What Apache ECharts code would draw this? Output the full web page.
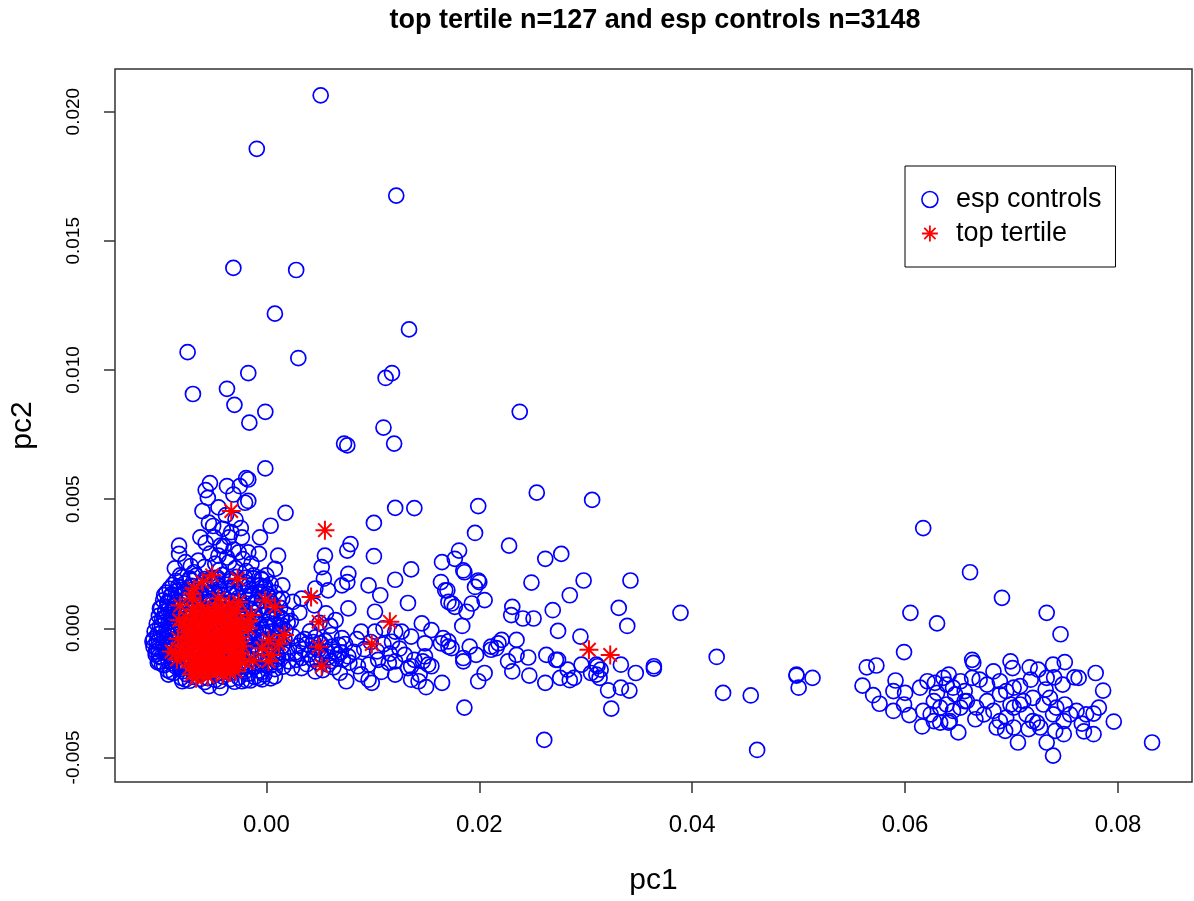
<!DOCTYPE html>
<html>
<head>
<meta charset="utf-8">
<title>top tertile vs esp controls</title>
<script src="https://cdn.jsdelivr.net/npm/echarts@6/dist/echarts.min.js"></script>
<style>
  html, body { margin: 0; padding: 0; background: #fff; }
  #chart { width: 1194px; height: 901px; }
</style>
</head>
<body>
<div id="chart"></div>
<script>
// axis ticks, as printed on the plot
const pc1Ticks = [0, 0.02, 0.04, 0.06, 0.08];
const pc1TickLabels = ["0.00", "0.02", "0.04", "0.06", "0.08"];
const pc2Ticks = [-0.005, 0, 0.005, 0.01, 0.015, 0.02];
const pc2TickLabels = ["-0.005", "0.000", "0.005", "0.010", "0.015", "0.020"];

// esp controls, [pc1, pc2]
// dense blob left of zero
const controlsCore = [
  [-0.0079, 0.00198], [-0.0066, 0.00204], [-0.0051, 0.00195], [-0.0041, 0.00207], [-0.0028, 0.00199], [-0.0012, 0.00193],
  [-0.0085, 0.00183], [-0.0072, 0.00188], [-0.0058, 0.00181], [-0.0046, 0.00189], [-0.0033, 0.00184], [-0.002, 0.00179], [-0.0004, 0.00187],
  [-0.0088, 0.00168], [-0.0077, 0.00173], [-0.0062, 0.00166], [-0.0053, 0.00172], [-0.0038, 0.00169], [-0.0025, 0.00174], [-0.0009, 0.00165], [0.0004, 0.00171],
  [-0.0091, 0.00153], [-0.0081, 0.00158], [-0.0069, 0.00151], [-0.0057, 0.00157], [-0.0044, 0.00154], [-0.003, 0.00159], [-0.0016, 0.00152], [-0.0002, 0.00156],
  [-0.0094, 0.00138], [-0.0085, 0.00143], [-0.0073, 0.00137], [-0.0061, 0.00142], [-0.0049, 0.00139], [-0.0035, 0.00144], [-0.0021, 0.00136], [-0.0006, 0.00141], [0.0008, 0.00138],
  [-0.009, 0.00123], [-0.0079, 0.00127], [-0.0066, 0.00121], [-0.0054, 0.00128], [-0.004, 0.00124], [-0.0026, 0.00119], [-0.0013, 0.00126], [0.0002, 0.00122],
  [-0.0097, 0.00108], [-0.0086, 0.00112], [-0.0074, 0.00106], [-0.0059, 0.00113], [-0.0046, 0.00109], [-0.0032, 0.00105], [-0.0018, 0.00111], [-0.0004, 0.00107], [0.0011, 0.00112],
  [-0.0093, 0.00097], [-0.0081, 0.00092], [-0.0068, 0.00098], [-0.0051, 0.00093], [-0.0037, 0.00096], [-0.0023, 0.00091], [-0.0009, 0.00097], [0.0005, 0.00094],
  [-0.0099, 0.00078], [-0.0088, 0.00082], [-0.0076, 0.00077], [-0.0063, 0.00083], [-0.0048, 0.00079], [-0.003, 0.00081], [-0.0015, 0.00076], [0.0, 0.00082], [0.0013, 0.00079],
  [-0.0095, 0.00067], [-0.0083, 0.00062], [-0.007, 0.00066], [-0.0056, 0.00063], [-0.0042, 0.00068], [-0.0027, 0.00064], [-0.0011, 0.00061], [0.0006, 0.00066],
  [-0.0101, 0.00048], [-0.009, 0.00053], [-0.0078, 0.00047], [-0.0064, 0.00052], [-0.005, 0.00049], [-0.0034, 0.00054], [-0.0019, 0.00046], [-0.0004, 0.00051], [0.001, 0.00048], [0.0019, 0.00053],
  [-0.0098, 0.00037], [-0.0086, 0.00032], [-0.0073, 0.00036], [-0.0058, 0.00033], [-0.0045, 0.00038], [-0.0029, 0.00034], [-0.0013, 0.00031], [0.0003, 0.00036], [0.0015, 0.00033],
  [-0.0103, 0.00018], [-0.0092, 0.00022], [-0.008, 0.00017], [-0.0067, 0.00023], [-0.0053, 0.00019], [-0.0038, 0.00021], [-0.0022, 0.00016], [-0.0007, 0.00022], [0.0008, 0.00018], [0.002, 0.00021],
  [-0.01, 0.00007], [-0.0089, 0.00002], [-0.0076, 0.00006], [-0.0062, 0.00003], [-0.0047, 0.00008], [-0.0031, 0.00004], [-0.0016, 0.00001], [0.0, 0.00006], [0.0013, 0.00003],
  [-0.0105, -0.00012], [-0.0094, -0.00008], [-0.0083, -0.00013], [-0.007, -0.00007], [-0.0056, -0.00011], [-0.0041, -0.00009], [-0.0025, -0.00014], [-0.001, -0.00008], [0.0006, -0.00012], [0.0018, -0.00009],
  [-0.0102, -0.00023], [-0.0091, -0.00028], [-0.0078, -0.00024], [-0.0064, -0.00027], [-0.0049, -0.00022], [-0.0034, -0.00026], [-0.0018, -0.00029], [-0.0003, -0.00024], [0.0011, -0.00027],
  [-0.0106, -0.00042], [-0.0096, -0.00038], [-0.0085, -0.00043], [-0.0072, -0.00037], [-0.0058, -0.00041], [-0.0043, -0.00039], [-0.0028, -0.00044], [-0.0012, -0.00038], [0.0004, -0.00042], [0.0017, -0.00039],
  [-0.0103, -0.00053], [-0.0092, -0.00058], [-0.008, -0.00054], [-0.0066, -0.00057], [-0.0051, -0.00052], [-0.0036, -0.00056], [-0.002, -0.00059], [-0.0005, -0.00054], [0.001, -0.00057],
  [-0.0106, -0.00072], [-0.0097, -0.00068], [-0.0087, -0.00073], [-0.0074, -0.00067], [-0.006, -0.00071], [-0.0045, -0.00069], [-0.0029, -0.00074], [-0.0013, -0.00068], [0.0003, -0.00072], [0.0015, -0.00069],
  [-0.0101, -0.00083], [-0.009, -0.00088], [-0.0077, -0.00084], [-0.0063, -0.00087], [-0.0048, -0.00082], [-0.0032, -0.00086], [-0.0017, -0.00089], [-0.0001, -0.00084], [0.0009, -0.00087],
  [-0.0104, -0.00102], [-0.0094, -0.00098], [-0.0083, -0.00103], [-0.0069, -0.00097], [-0.0055, -0.00101], [-0.004, -0.00099], [-0.0024, -0.00104], [-0.0008, -0.00098], [0.0006, -0.00102], [0.0016, -0.00099],
  [-0.0099, -0.00113], [-0.0088, -0.00118], [-0.0075, -0.00114], [-0.0061, -0.00117], [-0.0046, -0.00112], [-0.003, -0.00116], [-0.0014, -0.00119], [0.0002, -0.00114],
  [-0.0102, -0.00132], [-0.0092, -0.00128], [-0.008, -0.00133], [-0.0066, -0.00127], [-0.0052, -0.00131], [-0.0037, -0.00129], [-0.0021, -0.00134], [-0.0005, -0.00128], [0.001, -0.00132],
  [-0.0096, -0.00143], [-0.0085, -0.00148], [-0.0072, -0.00144], [-0.0058, -0.00147], [-0.0043, -0.00142], [-0.0027, -0.00146], [-0.0011, -0.00149], [0.0004, -0.00144],
  [-0.0093, -0.00162], [-0.0081, -0.00158], [-0.0068, -0.00163], [-0.0054, -0.00157], [-0.0039, -0.00161], [-0.0023, -0.00159], [-0.0007, -0.00164], [0.0008, -0.00158],
  [-0.0087, -0.00173], [-0.0075, -0.00178], [-0.0061, -0.00174], [-0.0047, -0.00177], [-0.0033, -0.00172], [-0.0017, -0.00176], [-0.0002, -0.00179],
  [-0.008, -0.00192], [-0.0068, -0.00188], [-0.0055, -0.00193], [-0.0041, -0.00187], [-0.0026, -0.00191], [-0.0011, -0.00189], [0.0004, -0.00194],
  [-0.0072, -0.00203], [-0.0058, -0.00208], [-0.0044, -0.00204], [-0.003, -0.00207], [-0.0015, -0.00202]
];

// more of the blob, lying between the rows above
const controlsCoreFill = [
  [-0.0072, 0.00193], [-0.0058, 0.00190], [-0.0046, 0.00196], [-0.0034, 0.00191], [-0.002, 0.00195], [-0.0005, 0.00192],
  [-0.0083, 0.00161], [-0.007, 0.00164], [-0.0056, 0.00159], [-0.0045, 0.00163], [-0.0031, 0.00160], [-0.0017, 0.00165], [-0.0001, 0.00162],
  [-0.0089, 0.00131], [-0.0079, 0.00134], [-0.0067, 0.00129], [-0.0055, 0.00133], [-0.0042, 0.00130], [-0.0028, 0.00135], [-0.0014, 0.00131], [0.0001, 0.00133],
  [-0.0093, 0.00101], [-0.008, 0.00104], [-0.0066, 0.00100], [-0.0053, 0.00103], [-0.0039, 0.00099], [-0.0025, 0.00104], [-0.0011, 0.00101], [0.0004, 0.00103],
  [-0.0092, 0.00071], [-0.0082, 0.00074], [-0.0069, 0.00070], [-0.0055, 0.00073], [-0.004, 0.00069], [-0.0022, 0.00074], [-0.0007, 0.00071], [0.0008, 0.00073],
  [-0.0096, 0.00041], [-0.0084, 0.00044], [-0.0071, 0.00040], [-0.0057, 0.00043], [-0.0042, 0.00039], [-0.0026, 0.00044], [-0.0011, 0.00041], [0.0004, 0.00043], [0.0014, 0.00040],
  [-0.0098, 0.00011], [-0.0086, 0.00014], [-0.0073, 0.00010], [-0.006, 0.00013], [-0.0045, 0.00009], [-0.003, 0.00014], [-0.0014, 0.00011], [0.0001, 0.00013], [0.0015, 0.00010],
  [-0.0099, -0.00019], [-0.0088, -0.00016], [-0.0076, -0.00020], [-0.0063, -0.00017], [-0.0048, -0.00021], [-0.0033, -0.00016], [-0.0017, -0.00019], [-0.0002, -0.00017], [0.0012, -0.00020],
  [-0.0101, -0.00049], [-0.009, -0.00046], [-0.0078, -0.00050], [-0.0065, -0.00047], [-0.005, -0.00051], [-0.0035, -0.00046], [-0.002, -0.00049], [-0.0004, -0.00047], [0.0009, -0.00050],
  [-0.0103, -0.00079], [-0.0093, -0.00076], [-0.0082, -0.00080], [-0.0069, -0.00077], [-0.0054, -0.00081], [-0.0039, -0.00076], [-0.0024, -0.00079], [-0.0009, -0.00077], [0.0005, -0.00080],
  [-0.0101, -0.00109], [-0.0091, -0.00106], [-0.0079, -0.00110], [-0.0066, -0.00107], [-0.0051, -0.00111], [-0.0035, -0.00106], [-0.0019, -0.00109], [-0.0003, -0.00107], [0.0011, -0.00110],
  [-0.0098, -0.00139], [-0.0088, -0.00136], [-0.0076, -0.00140], [-0.0062, -0.00137], [-0.0048, -0.00141], [-0.0032, -0.00136], [-0.0016, -0.00139], [0.0, -0.00137],
  [-0.009, -0.00169], [-0.0078, -0.00166], [-0.0064, -0.00170], [-0.005, -0.00167], [-0.0036, -0.00171], [-0.002, -0.00166], [-0.0004, -0.00169],
  [-0.0076, -0.00199], [-0.0062, -0.00196], [-0.0048, -0.00200], [-0.0034, -0.00197], [-0.0019, -0.00201], [-0.0004, -0.00198]
];

// fringe of the blob and the column rising above it
const controlsFringe = [
  [-0.0037, 0.0055], [-0.0017, 0.00576], [-0.0055, 0.00505], [-0.0031, 0.00518], [-0.0017, 0.00493], [-0.002, 0.00486],
  [-0.006, 0.00454], [-0.0054, 0.00409], [-0.0062, 0.00352], [-0.0049, 0.00352], [-0.0035, 0.00352], [-0.0023, 0.00352],
  [-0.0006, 0.00352], [-0.0082, 0.0032], [-0.0082, 0.00288], [-0.0043, 0.0032], [-0.0045, 0.00281], [-0.0026, 0.00294],
  [-0.0017, 0.00294], [-0.0007, 0.00288], [0.0011, 0.00281], [-0.0076, 0.00256], [-0.0064, 0.00262], [-0.0048, 0.0025],
  [-0.0035, 0.00256], [-0.0014, 0.0025], [0.0008, 0.0023], [-0.0081, 0.00205], [-0.0068, 0.00217], [-0.0012, 0.00205],
  [0.0, 0.00205], [0.0015, 0.00166], [-0.0006, 0.00166], [-0.0096, 0.00128], [-0.01, 0.00077], [-0.0095, 0.00038],
  [-0.0107, -0.00051], [-0.0104, -0.0009], [-0.0101, -0.00128], [-0.0092, -0.00179], [-0.0079, -0.00205], [-0.0054, -0.00224],
  [-0.0043, -0.0023], [-0.0023, -0.00205], [-0.0007, -0.00192], [0.0008, -0.00186],
  [-0.0045, 0.00468], [-0.0038, 0.00438], [-0.0029, 0.00421], [-0.005, 0.00396], [-0.0041, 0.00385], [-0.0033, 0.00372],
  [-0.0024, 0.00388], [-0.0057, 0.00331], [-0.004, 0.00318], [-0.0031, 0.00305], [-0.0053, 0.00289], [-0.0037, 0.00274],
  [-0.0022, 0.00268], [-0.0058, 0.00238], [-0.0044, 0.00226], [-0.0029, 0.00233], [-0.0019, 0.00221], [-0.0071, 0.00241],
  [-0.0086, 0.00232]
];

// group just right of zero
const controlsNear = [
  [0.0033, -0.00051], [0.0046, -0.00077], [0.0052, -0.00103], [0.0064, -0.0009], [0.0068, -0.00064], [0.0061, -0.00026],
  [0.0071, -0.00038], [0.0033, -0.00115], [0.0033, -0.00154], [0.0046, -0.00167], [0.0058, -0.00141], [0.0021, -0.00128],
  [0.0024, -0.00154], [0.0077, -0.00109], [0.0086, -0.00147], [0.0096, -0.00141], [0.0105, -0.00122], [0.0115, -0.00134],
  [0.0121, -0.00128], [0.0075, -0.00205], [0.0096, -0.00199], [0.0099, -0.00211], [0.0121, -0.00179], [0.0089, -0.00013],
  [0.0102, -0.00013], [0.011, 0.0], [0.0121, -0.00013], [0.0079, 0.00326], [0.0076, 0.00301], [0.0055, 0.00281],
  [0.0052, 0.00237], [0.0101, 0.00279], [0.0121, 0.00188], [0.0077, 0.00211], [0.0076, 0.00179], [0.0071, 0.00166],
  [0.0054, 0.00192], [0.0046, 0.00154], [0.0058, 0.00147], [0.0033, 0.00115], [0.0025, 0.00102], [0.0015, 0.00115],
  [0.0096, 0.00166], [0.0107, 0.00128], [0.0102, 0.00064], [0.0077, 0.00077],
  [0.0025, -0.00031], [0.003, -0.00068], [0.0036, -0.00042], [0.004, -0.00101], [0.0044, -0.00053], [0.0049, -0.00083],
  [0.0055, -0.00049], [0.0058, -0.00112], [0.0062, -0.00071], [0.0066, -0.00118], [0.007, -0.00093], [0.0074, -0.00061],
  [0.0028, -0.00122], [0.0038, -0.00139], [0.0048, -0.00131], [0.0053, -0.00162], [0.0063, -0.00151], [0.0069, -0.00172],
  [0.0078, -0.00133], [0.0082, -0.00091], [0.0041, -0.00012], [0.005, 0.00021], [0.006, 0.00009], [0.0023, 0.00028],
  [0.0031, 0.00061], [0.0045, 0.00089], [0.0056, 0.00058], [0.0065, 0.00032], [0.002, -0.00092], [0.0016, -0.00148],
  [0.0012, -0.00051], [0.001, -0.00119], [0.0085, -0.00042], [0.0092, -0.00081], [0.0098, -0.00053], [0.0104, -0.00089],
  [0.011, -0.00062], [0.0116, -0.00098], [0.0089, -0.00178], [0.0108, -0.00169], [0.0118, -0.00052], [0.0125, -0.00079],
  [0.0027, -0.00094], [0.0035, -0.00081], [0.0043, -0.00118], [0.0051, -0.00058], [0.0057, -0.00089], [0.0067, -0.00101],
  [0.0038, -0.00061], [0.0061, -0.00127], [0.0072, -0.00121], [0.0046, -0.00035]
];

// long band running to pc1 = 0.05
const controlsBand = [
  [0.0127, -0.00013], [0.0136, -0.00032], [0.0149, -0.00058], [0.0166, -0.00038], [0.0171, -0.00071], [0.0191, -0.00071],
  [0.0197, -0.00103], [0.0185, -0.00128], [0.0211, -0.00083], [0.0218, -0.00058], [0.0221, -0.00045], [0.0235, -0.00045],
  [0.0227, -0.00128], [0.0235, -0.00103], [0.0246, -0.00113], [0.0263, -0.00103], [0.0274, -0.00122], [0.0283, -0.0016],
  [0.0289, -0.00192], [0.0285, -0.00201], [0.0296, -0.00141], [0.0311, -0.00147], [0.0314, -0.0016], [0.0305, -0.00173],
  [0.0333, -0.00141], [0.0347, -0.00173], [0.0364, -0.00147], [0.0364, -0.00156], [0.0205, -0.00173], [0.0199, -0.00205],
  [0.0186, -0.00307], [0.0231, -0.00167], [0.0247, -0.00183], [0.0262, -0.00211], [0.0276, -0.00192], [0.0136, -0.00199],
  [0.015, -0.00228], [0.0165, -0.00211], [0.0321, -0.0024], [0.0333, -0.0023], [0.0341, -0.00241], [0.0324, -0.00311],
  [0.0261, -0.00432], [0.0423, -0.00111], [0.0429, -0.0025], [0.0455, -0.0026], [0.0461, -0.00471], [0.0498, -0.00183],
  [0.05, -0.0023], [0.0513, -0.00192], [0.0313, -0.00192], [0.031, -0.00179], [0.013, -0.00103], [0.0139, -0.00122],
  [0.0147, -0.00128], [0.0152, -0.00141], [0.0144, -0.00179], [0.0164, -0.00058], [0.0171, -0.00051], [0.0174, -0.00077],
  [0.0185, -0.00115], [0.0211, -0.00071], [0.0216, -0.00077], [0.0272, -0.00122], [0.031, -0.00141], [0.0136, -0.00147],
  [0.0149, -0.00109], [0.0155, -0.00147], [0.0133, -0.00154], [0.0143, -0.00205], [0.0155, -0.00007], [0.0168, 0.00147],
  [0.0171, 0.00102]
];

// scattered points above the band
const controlsHigh = [
  [0.0051, 0.02063], [-0.0009, 0.01856], [0.0122, 0.01675], [-0.0031, 0.01395], [0.0028, 0.01387], [0.0008, 0.01218],
  [0.0134, 0.01157], [-0.0074, 0.01069], [0.003, 0.01046], [0.0118, 0.00988], [0.0112, 0.00969], [-0.0069, 0.00907],
  [-0.0037, 0.00927], [-0.003, 0.00865], [-0.0017, 0.00988], [-0.0001, 0.00838], [0.0238, 0.00838], [-0.0016, 0.00796],
  [0.011, 0.00777], [0.0073, 0.00715], [0.0076, 0.00708], [0.012, 0.00715], [-0.0001, 0.00619], [-0.0019, 0.00581],
  [0.0254, 0.00525], [0.0306, 0.00497], [0.0199, 0.00473], [0.0139, 0.00465], [0.0121, 0.00466], [0.0018, 0.00447],
  [0.0004, 0.00397], [-0.0025, 0.0055], [-0.0053, 0.00562], [-0.0057, 0.00535], [0.0101, 0.00408],
  [0.0196, 0.00369], [0.0228, 0.0032], [0.0262, 0.00269], [0.0277, 0.00288], [0.0136, 0.00228], [0.0165, 0.00256],
  [0.0177, 0.00269], [0.0181, 0.00301], [0.0185, 0.00224], [0.0186, 0.00217], [0.0199, 0.00185], [0.0196, 0.0016],
  [0.02, 0.00179], [0.0164, 0.00179], [0.017, 0.00147], [0.0249, 0.00177], [0.0298, 0.00185], [0.0342, 0.00185],
  [0.0133, 0.00098], [0.0174, 0.00096], [0.0177, 0.00083], [0.0188, 0.00064], [0.0193, 0.00096], [0.0205, 0.00109],
  [0.0285, 0.00128], [0.0269, 0.0007], [0.0231, 0.00083], [0.023, 0.00051], [0.0241, 0.00038], [0.0251, 0.00038],
  [0.0331, 0.00079], [0.0339, 0.00009], [0.0389, 0.0006], [0.0274, -0.0001], [0.0146, 0.00019], [0.0184, 0.00009],
  [0.0295, -0.00032]
];

// second cluster near pc1 = 0.07
const controlsRight = [
  [0.0498, -0.00179], [0.0617, 0.00388], [0.0661, 0.00217], [0.0691, 0.00118], [0.0733, 0.0006], [0.0746, -0.00023],
  [0.0605, 0.0006], [0.063, 0.00019], [0.0599, -0.00092], [0.0564, -0.00151], [0.0573, -0.00144], [0.056, -0.00222],
  [0.057, -0.00259], [0.0576, -0.00292], [0.0591, -0.00202], [0.0589, -0.00243], [0.06, -0.0025], [0.0599, -0.00295],
  [0.0604, -0.00336], [0.0589, -0.0032], [0.0663, -0.00122], [0.0664, -0.00134], [0.0699, -0.00128], [0.0701, -0.00154],
  [0.0717, -0.00151], [0.0725, -0.0016], [0.0739, -0.00141], [0.075, -0.00131], [0.0733, -0.00192], [0.074, -0.0019],
  [0.0759, -0.0019], [0.0763, -0.00192], [0.0779, -0.00173], [0.0786, -0.00241], [0.0782, -0.00307], [0.0777, -0.0033],
  [0.0796, -0.00361], [0.0777, -0.0041], [0.0768, -0.00399], [0.0766, -0.00369], [0.0832, -0.00442], [0.0739, -0.00493],
  [0.0733, -0.00442], [0.0706, -0.00442], [0.0749, -0.0041], [0.0741, -0.00397], [0.065, -0.00403], [0.0616, -0.0038],
  [0.0627, -0.00359], [0.0641, -0.00365],
  [0.0614, -0.0023], [0.0621, -0.00205], [0.0628, -0.00211], [0.0636, -0.00192], [0.0641, -0.00179], [0.0645, -0.0023],
  [0.0652, -0.00205], [0.0656, -0.00243], [0.0663, -0.00192], [0.067, -0.00199], [0.0677, -0.00218], [0.0683, -0.00167],
  [0.0689, -0.00205], [0.0695, -0.00243], [0.0702, -0.0023], [0.0708, -0.00224], [0.0627, -0.00282], [0.0633, -0.00307],
  [0.0639, -0.00295], [0.0645, -0.0032], [0.0652, -0.00307], [0.0658, -0.00282], [0.0667, -0.00307], [0.0674, -0.00333],
  [0.0683, -0.0032], [0.0689, -0.00359], [0.0695, -0.00346], [0.0702, -0.00307], [0.0708, -0.00295], [0.0714, -0.00333],
  [0.072, -0.00359], [0.0727, -0.00384], [0.072, -0.00269], [0.073, -0.00295], [0.0736, -0.00269], [0.0742, -0.00307],
  [0.075, -0.00295], [0.0755, -0.00333], [0.0761, -0.0032], [0.077, -0.00333], [0.0617, -0.0032], [0.0624, -0.00333],
  [0.0633, -0.00365], [0.0642, -0.00359], [0.0686, -0.00384], [0.0694, -0.00397], [0.0702, -0.00384], [0.0716, -0.0039],
  [0.0724, -0.00365], [0.0739, -0.00333], [0.0749, -0.00359], [0.0639, -0.00218], [0.063, -0.0025], [0.0656, -0.00282],
  [0.0677, -0.00282], [0.0699, -0.00295], [0.0711, -0.00282], [0.0689, -0.00256], [0.0666, -0.00352], [0.0647, -0.00256],
  [0.0732, -0.00237], [0.0748, -0.00218], [0.0718, -0.00199]
];

// top tertile cases
const tertileCore = [
  [-0.0075, 0.00042], [-0.0068, 0.00051], [-0.0061, 0.00058], [-0.0054, 0.00033], [-0.0047, 0.00047], [-0.004, 0.00038], [-0.0033, 0.00061], [-0.0027, 0.00029],
  [-0.0078, 0.00012], [-0.0071, -0.00006], [-0.0064, 0.00018], [-0.0057, 0.00003], [-0.005, 0.00011], [-0.0043, -0.00008], [-0.0036, 0.00014], [-0.0029, -0.00004], [-0.0023, 0.00007],
  [-0.0074, -0.00037], [-0.0067, -0.00028], [-0.006, -0.00046], [-0.0053, -0.00031], [-0.0046, -0.00042], [-0.0039, -0.00026], [-0.0032, -0.00049], [-0.0025, -0.00035],
  [-0.0079, -0.00068], [-0.0071, -0.00081], [-0.0064, -0.00072], [-0.0057, -0.00084], [-0.005, -0.00066], [-0.0043, -0.00089], [-0.0036, -0.00074], [-0.0029, -0.00083], [-0.0022, -0.00069],
  [-0.0076, -0.00112], [-0.0068, -0.00121], [-0.0061, -0.00106], [-0.0054, -0.00118], [-0.0047, -0.00109], [-0.004, -0.00124], [-0.0033, -0.00113], [-0.0026, -0.00119],
  [-0.0072, -0.00152], [-0.0065, -0.00161], [-0.0058, -0.00147], [-0.0051, -0.00158], [-0.0044, -0.00149], [-0.0037, -0.00163], [-0.003, -0.00141],
  [-0.0062, 0.00089], [-0.0048, 0.00081], [-0.0035, 0.00093], [-0.0055, -0.00188], [-0.0041, -0.00181], [-0.0066, -0.00193],
  [-0.0071, 0.00026], [-0.0057, 0.00023], [-0.0043, 0.00027], [-0.003, 0.00022],
  [-0.0075, -0.00016], [-0.0061, -0.00013], [-0.0047, -0.00017], [-0.0033, -0.00014], [-0.0026, -0.00018],
  [-0.007, -0.00056], [-0.0056, -0.00053], [-0.0042, -0.00057], [-0.0028, -0.00054],
  [-0.0074, -0.00096], [-0.006, -0.00093], [-0.0046, -0.00097], [-0.0032, -0.00094], [-0.0025, -0.00098],
  [-0.0069, -0.00136], [-0.0055, -0.00133], [-0.0041, -0.00137], [-0.0028, -0.00134],
  [-0.0069, 0.00071], [-0.0055, 0.00068], [-0.0041, 0.00072], [-0.0028, 0.00069],
  [-0.0061, -0.00172], [-0.0047, -0.00168], [-0.0034, -0.00171],
  [-0.0072, 0.00005], [-0.0065, -0.00045], [-0.0058, -0.0002], [-0.0051, -0.00095], [-0.0044, -0.0006],
  [-0.0037, -0.0003], [-0.0049, 0.00062], [-0.0063, -0.0013], [-0.0035, -0.00128], [-0.0078, -0.00089],
  [-0.0053, 0.00046], [-0.0039, 0.0005], [-0.0066, 0.00036], [-0.0046, -0.00143], [-0.0059, -0.00165]
];

const tertileSpread = [
  [-0.0033, 0.00454], [0.0055, 0.0038], [0.0042, 0.00121], [0.0049, 0.00025], [0.0116, 0.00025], [0.0099, -0.00061],
  [0.0049, -0.00071], [0.0052, -0.00147], [0.0017, -0.00026], [0.0008, 0.00083], [-0.0001, 0.00109], [-0.0027, 0.00192],
  [-0.0051, 0.00205], [-0.006, 0.00179], [-0.007, 0.00134], [-0.0068, 0.00154], [-0.0089, -0.0009], [-0.0085, -0.00095],
  [-0.007, -0.00179], [-0.0064, -0.00179], [-0.0029, -0.00167], [0.0005, -0.00103], [-0.0004, -0.00077], [-0.0017, 0.0],
  [-0.0014, 0.00051], [-0.0026, 0.00102], [-0.0045, 0.00115], [-0.007, 0.00115], [0.0303, -0.00083], [0.0323, -0.00103],
  [0.0002, -0.00045], [-0.0012, -0.00125], [0.0012, -0.0006], [-0.0083, -0.0004], [0.0002, -0.00128],
  [-0.0082, 0.00031], [-0.0084, -0.00121], [-0.002, -0.00131], [-0.0018, 0.00029], [-0.0081, 0.00088]
];

const controls = [].concat(controlsCore, controlsCoreFill, controlsFringe, controlsNear, controlsBand, controlsHigh, controlsRight);
const tertile = [].concat(tertileCore, tertileSpread);

const FONT = "'Liberation Sans', Arial, Helvetica, sans-serif";
const ASTERISK = "path://M0,-10L0,10M-10,0L10,0M-7.07,-7.07L7.07,7.07M-7.07,7.07L7.07,-7.07";

function tickLabel(ticks, labels) {
  return (value) => {
    const i = ticks.findIndex((t) => Math.abs(t - value) < 1e-9);
    return i < 0 ? "" : labels[i];
  };
}

const chart = echarts.init(document.querySelector("#chart"));

chart.setOption({
  animation: false,
  textStyle: { fontFamily: FONT, color: "#000" },
  title: {
    text: "top tertile n=127 and esp controls n=3148",
    left: 655,
    top: 7,
    padding: 0,
    textAlign: "center",
    textStyle: { fontFamily: FONT, fontSize: 27, fontWeight: "bold", color: "#000" },
  },
  grid: {
    left: 113,
    right: 2,
    top: 69,
    bottom: 114,
    show: true,
    borderColor: "#333",
    borderWidth: 1.5,
    backgroundColor: "transparent",
  },
  legend: {
    orient: "vertical",
    left: 905,
    top: 166,
    padding: [20, 14, 20, 16],
    itemGap: 7,
    itemWidth: 42,
    itemHeight: 16,
    borderColor: "#000",
    borderWidth: 1,
    backgroundColor: "#fff",
    selectedMode: false,
    textStyle: { fontFamily: FONT, fontSize: 27, color: "#000" },
    data: [
      { name: "esp controls", itemStyle: { color: "transparent", borderColor: "#0000ff", borderWidth: 1.6 } },
      { name: "top tertile", itemStyle: { color: "transparent", borderColor: "#ff0000", borderWidth: 1.8 } },
    ],
  },
  xAxis: {
    type: "value",
    min: -0.01422,
    max: 0.08695,
    name: "pc1",
    nameLocation: "middle",
    nameGap: 84,
    nameTextStyle: { fontFamily: FONT, fontSize: 30, color: "#000" },
    splitLine: { show: false },
    axisLine: { show: false, onZero: false },
    axisTick: {
      show: true,
      length: 11,
      customValues: pc1Ticks,
      lineStyle: { color: "#333", width: 1.5 },
    },
    axisLabel: {
      customValues: pc1Ticks,
      formatter: tickLabel(pc1Ticks, pc1TickLabels),
      margin: 31,
      fontFamily: FONT,
      fontSize: 24,
      color: "#000",
    },
  },
  yAxis: {
    type: "value",
    min: -0.00595,
    max: 0.02165,
    name: "pc2",
    nameLocation: "middle",
    nameGap: 77,
    nameTextStyle: { fontFamily: FONT, fontSize: 30, color: "#000" },
    splitLine: { show: false },
    axisLine: { show: false, onZero: false },
    axisTick: {
      show: true,
      length: 11,
      customValues: pc2Ticks,
      lineStyle: { color: "#333", width: 1.5 },
    },
    axisLabel: {
      customValues: pc2Ticks,
      formatter: tickLabel(pc2Ticks, pc2TickLabels),
      rotate: 90,
      margin: 32,
      fontFamily: FONT,
      fontSize: 19,
      color: "#000",
    },
  },
  series: [
    {
      name: "esp controls",
      type: "scatter",
      data: controls,
      symbol: "circle",
      symbolSize: 15,
      silent: true,
      itemStyle: { color: "transparent", borderColor: "#0000ff", borderWidth: 1.7, opacity: 1 },
      emphasis: { disabled: true },
    },
    {
      name: "top tertile",
      type: "scatter",
      data: tertile,
      symbol: ASTERISK,
      symbolSize: 19,
      silent: true,
      itemStyle: { color: "transparent", borderColor: "#ff0000", borderWidth: 2, opacity: 1 },
      emphasis: { disabled: true },
    },
  ],
});
</script>
</body>
</html>
